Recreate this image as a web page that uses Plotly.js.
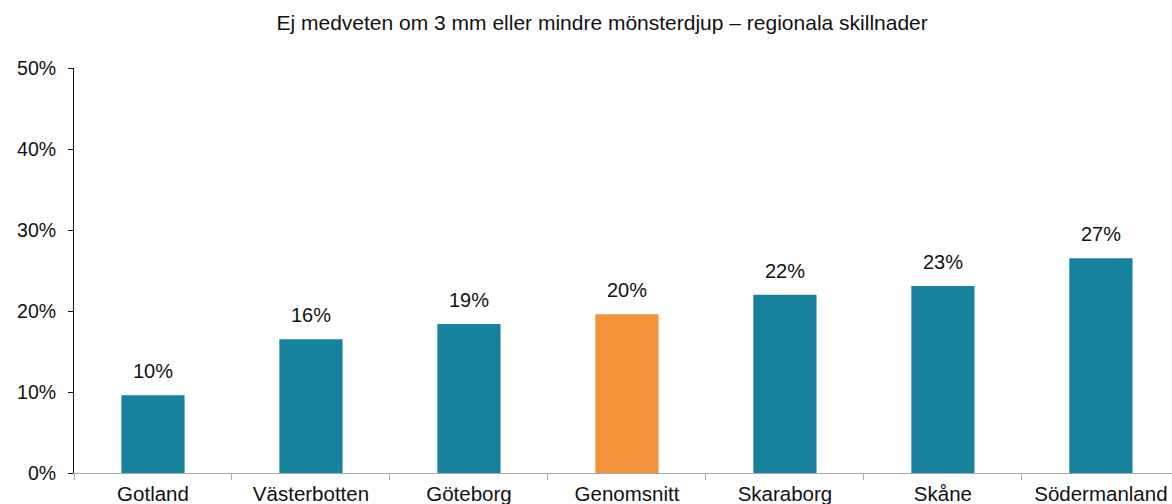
<!DOCTYPE html>
<html>
<head>
<meta charset="utf-8">
<script src="https://cdn.plot.ly/plotly-3.0.1.min.js"></script>
<style>html,body{margin:0;padding:0;background:#fff;}#chart{width:1172px;height:504px;}</style>
</head>
<body>
<div id="chart"></div>
<script>
const categories = ["Gotland", "Västerbotten", "Göteborg", "Genomsnitt", "Skaraborg", "Skåne", "Södermanland"];
const values = [0.096, 0.165, 0.184, 0.196, 0.220, 0.231, 0.265];
const labels = ["10%", "16%", "19%", "20%", "22%", "23%", "27%"];
const barColors = ["#17829D", "#17829D", "#17829D", "#F5933A", "#17829D", "#17829D", "#17829D"];
const yTickVals = [0, 0.1, 0.2, 0.3, 0.4, 0.5];
const yTickText = ["0%", "10%", "20%", "30%", "40%", "50%"];
const titleText = "Ej medveten om 3 mm eller mindre mönsterdjup – regionala skillnader";

const FONT = "Liberation Sans, Arial, Helvetica, sans-serif";

const trace = {
  type: "bar",
  x: categories,
  y: values,
  marker: {color: barColors},
  hoverinfo: "none"
};

const annotations = categories.map((c, i) => ({
  x: c, y: values[i], xref: "x", yref: "y",
  text: labels[i], showarrow: false,
  yanchor: "bottom", yshift: 11,
  font: {family: FONT, size: 20, color: "#111"}
}));

const layout = {
  width: 1172, height: 504,
  margin: {l: 74, r: 0, t: 68, b: 31, pad: 0},
  paper_bgcolor: "#fff", plot_bgcolor: "#fff",
  bargap: 0.6,
  showlegend: false,
  title: {
    text: titleText, x: 0.481, xref: "paper", xanchor: "center",
    y: 0.955, yref: "container", yanchor: "middle",
    font: {family: FONT, size: 21, color: "#111"}
  },
  xaxis: {
    type: "category",
    range: [-0.5, 6.45],
    showgrid: false, zeroline: false,
    showline: true, linecolor: "#aaaaaa", linewidth: 1,
    ticks: "outside", tickson: "boundaries", ticklen: 6, tickcolor: "#aaaaaa",
    tickfont: {family: FONT, size: 20.5, color: "#111"},
    ticklabelstandoff: 2,
    fixedrange: true
  },
  yaxis: {
    range: [0, 0.5],
    tickvals: yTickVals, ticktext: yTickText,
    showgrid: false, zeroline: false,
    showline: true, linecolor: "#111", linewidth: 1,
    ticks: "outside", ticklen: 5, tickcolor: "#111",
    tickfont: {family: FONT, size: 19.5, color: "#111"},
    ticklabelstandoff: 8,
    fixedrange: true
  },
  annotations: annotations
};

Plotly.newPlot("chart", [trace], layout, {staticPlot: true, displayModeBar: false});
</script>
</body>
</html>
